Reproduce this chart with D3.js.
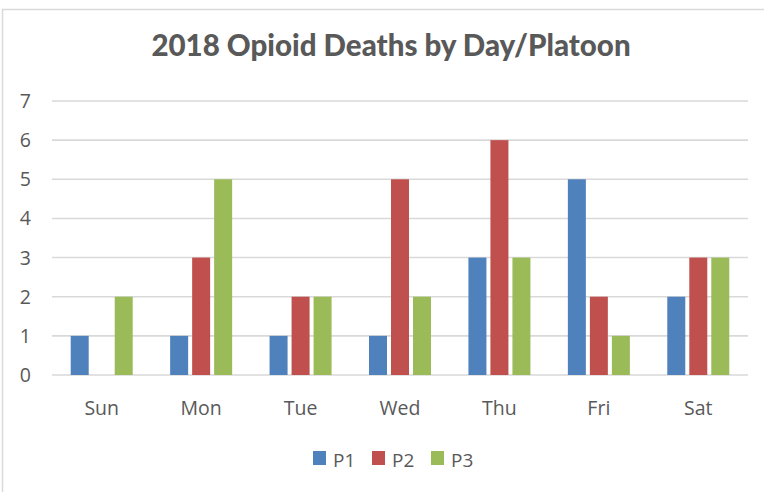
<!DOCTYPE html>
<html>
<head>
<meta charset="utf-8">
<script src="https://cdn.jsdelivr.net/npm/d3@7"></script>
<style>
  body { margin: 0; background: #fff; }
  svg { display: block; }
</style>
</head>
<body>
<div id="chart"></div>
<script>
// Data
var days = ["Sun", "Mon", "Tue", "Wed", "Thu", "Fri", "Sat"];
var platoons = ["P1", "P2", "P3"];
var p1 = [1, 1, 1, 1, 3, 5, 2];
var p2 = [0, 3, 2, 5, 6, 2, 3];
var p3 = [2, 5, 2, 2, 3, 1, 3];
var yTicks = [0, 1, 2, 3, 4, 5, 6, 7];
var title = "2018 Opioid Deaths by Day/Platoon";

var colors = ["#4F81BD", "#C0504D", "#9BBB59"];
var seriesValues = [p1, p2, p3];

var width = 764, height = 492;
var margin = { top: 101, right: 16, bottom: 117, left: 52 };

var svg = d3.select("#chart")
  .append("svg")
    .attr("width", width)
    .attr("height", height);

// outer chart border (cropped on the right and bottom)
svg.append("rect")
  .attr("x", 2.5).attr("y", 9.5)
  .attr("width", 900).attr("height", 700)
  .style("fill", "none")
  .style("stroke", "#d9d9d9")
  .style("stroke-width", 1.5);

svg.append("text")
  .attr("x", 391).attr("y", 56)
  .attr("text-anchor", "middle")
  .style("font-family", "Lato, 'Open Sans', sans-serif")
  .style("font-weight", "900")
  .style("font-size", "29.5px")
  .style("fill", "#595959")
  .text(title);

var x0 = d3.scaleBand()
  .domain(days)
  .range([margin.left, width - margin.right])
  .paddingInner(0).paddingOuter(0);

var innerPad = (x0.bandwidth() - 62) / 2;
var x1 = d3.scaleBand()
  .domain(platoons)
  .range([innerPad, x0.bandwidth() - innerPad])
  .paddingInner(0.182);

var y = d3.scaleLinear()
  .domain([0, 7])
  .range([height - margin.bottom, margin.top]);

// gridlines
svg.append("g")
  .selectAll("line")
  .data(yTicks)
  .enter()
  .append("line")
    .attr("x1", margin.left)
    .attr("x2", width - margin.right)
    .attr("y1", function(d) { return y(d); })
    .attr("y2", function(d) { return y(d); })
    .style("stroke", "#d9d9d9")
    .style("stroke-width", 1.6);

// y labels
svg.append("g")
  .selectAll("text")
  .data(yTicks)
  .enter()
  .append("text")
    .attr("x", 31)
    .attr("y", function(d) { return y(d); })
    .attr("dy", "0.36em")
    .attr("text-anchor", "end")
    .style("font-family", "'Open Sans', sans-serif")
    .style("font-size", "19.5px")
    .style("fill", "#595959")
    .text(function(d) { return d; });

// bars
var rows = days.map(function(d, i) {
  return { day: d, vals: platoons.map(function(p, j) { return { key: p, value: seriesValues[j][i], color: colors[j] }; }) };
});

svg.append("g")
  .selectAll("g")
  .data(rows)
  .enter()
  .append("g")
    .attr("transform", function(d) { return "translate(" + x0(d.day) + ",0)"; })
  .selectAll("rect")
  .data(function(d) { return d.vals; })
  .enter()
  .append("rect")
    .attr("x", function(d) { return x1(d.key); })
    .attr("width", x1.bandwidth())
    .attr("y", function(d) { return y(d.value); })
    .attr("height", function(d) { return y(0) - y(d.value); })
    .style("fill", function(d) { return d.color; });

// x labels
svg.append("g")
  .selectAll("text")
  .data(days)
  .enter()
  .append("text")
    .attr("x", function(d) { return x0(d) + x0.bandwidth() / 2; })
    .attr("y", 415)
    .attr("text-anchor", "middle")
    .style("font-family", "'Open Sans', sans-serif")
    .style("font-size", "19.5px")
    .style("fill", "#595959")
    .text(function(d) { return d; });

// legend
var legendX = [313, 372, 431];
var legend = svg.append("g")
  .selectAll("g")
  .data(platoons)
  .enter()
  .append("g")
    .attr("transform", function(d, i) { return "translate(" + legendX[i] + ",451)"; });

legend.append("rect")
  .attr("width", 13).attr("height", 14)
  .style("fill", function(d, i) { return colors[i]; });

legend.append("text")
  .attr("x", 20).attr("y", 16)
  .style("font-family", "'Open Sans', sans-serif")
  .style("font-size", "19px")
  .style("fill", "#595959")
  .text(function(d) { return d; });
</script>
</body>
</html>
